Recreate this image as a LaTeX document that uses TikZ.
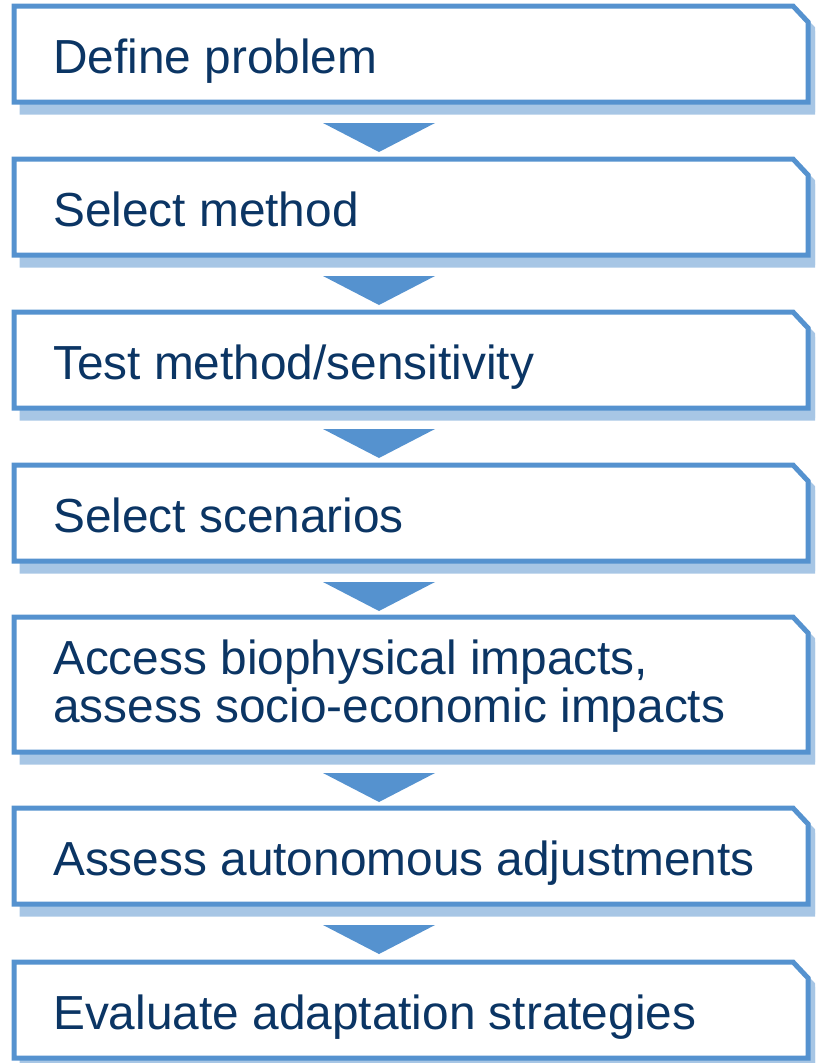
\documentclass[tikz,border=0pt]{standalone}
\usepackage{fontspec}
\setmainfont{Liberation Sans}
\definecolor{edge}{HTML}{5592CF}
\definecolor{shade}{HTML}{A7C6E5}
\definecolor{ink}{HTML}{0B3564}
\begin{document}
\begin{tikzpicture}[x=1pt,y=-1pt,
  lbl/.style={anchor=base west, inner sep=0pt, text=ink, font=\fontsize{47.8}{48}\selectfont, align=left},
  boxline/.style={draw=edge, line width=5pt, fill=white, line join=miter},
  boxshadow/.style={draw=shade, fill=shade, line width=5pt, line join=miter},
  arrowtri/.style={fill=edge}]
\useasboundingbox (0,0) rectangle (815,1063);
\clip (0,0) rectangle (815,1063);
\newcommand\flowbox[2]{%
  \path[boxshadow] (22,#1+10) -- (801,#1+10) -- (816,#1+26) -- (816,#2+10) -- (22,#2+10) -- cycle;
  \path[boxline] (14,#1) -- (793,#1) -- (808,#1+16) -- (808,#2) -- (14,#2) -- cycle;}
\newcommand\flowarrow[1]{%
  \fill[arrowtri] (323,#1+21) -- (435,#1+21) -- (379,#1+50) -- cycle;}
\flowbox{6}{102}
\flowbox{159}{255}
\flowbox{312}{408}
\flowbox{465}{561}
\flowbox{617}{752}
\flowbox{808}{904}
\flowbox{962}{1058}
\flowarrow{102}
\flowarrow{255}
\flowarrow{408}
\flowarrow{561}
\flowarrow{752}
\flowarrow{904}
\node[lbl] (t1) at (53,73) {Define problem};
\node[lbl] (t2) at (53,226) {Select method};
\node[lbl] (t3) at (53,379) {Test method/sensitivity};
\node[lbl] (t4) at (53,532) {Select scenarios};
\node[lbl] (t5) at (53,722) {Access biophysical impacts,\\assess socio-economic impacts};
\node[lbl] (t6) at (53,875) {Assess autonomous adjustments};
\node[lbl] (t7) at (53,1029) {Evaluate adaptation strategies};
\end{tikzpicture}
\end{document}
